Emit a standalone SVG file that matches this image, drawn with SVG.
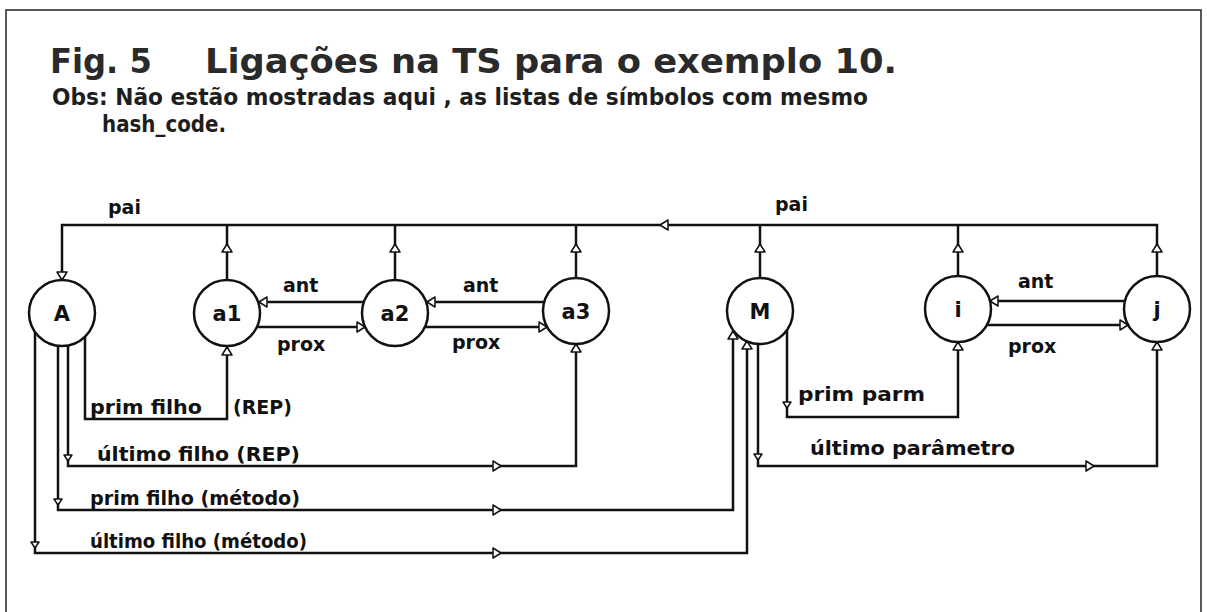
<svg xmlns="http://www.w3.org/2000/svg" width="1207" height="612" viewBox="0 0 1207 612">
<style>
.ln{fill:none;stroke:#111;stroke-width:2.5}
.fr{fill:none;stroke:#222;stroke-width:1.5}
.nd{fill:#fff;stroke:#111;stroke-width:2.5}
.ah{fill:#fff;stroke:#111;stroke-width:1.5;stroke-linejoin:round}
.ttl{font-family:"DejaVu Sans","Liberation Sans",sans-serif;font-size:34px;font-weight:bold;fill:#2a2a2a}
.obs{font-family:"DejaVu Sans","Liberation Sans",sans-serif;font-size:23px;font-weight:bold;fill:#1e1e1e}
.lbl{font-family:"DejaVu Sans","Liberation Sans",sans-serif;font-size:19px;font-weight:bold;fill:#111}
.nl{font-family:"DejaVu Sans","Liberation Sans",sans-serif;font-size:21px;font-weight:bold;text-anchor:middle;fill:#111}
</style>
<path class="fr" d="M6,612 V10 H1201 V612"/>
<text class="ttl" x="50" y="73" textLength="102" lengthAdjust="spacingAndGlyphs">Fig. 5</text>
<text class="ttl" x="205" y="73" textLength="692" lengthAdjust="spacingAndGlyphs">Ligações na TS para o exemplo 10.</text>
<text class="obs" x="52" y="105" textLength="816" lengthAdjust="spacingAndGlyphs">Obs: Não estão mostradas aqui , as listas de  símbolos com mesmo</text>
<text class="obs" x="102" y="132" textLength="124" lengthAdjust="spacingAndGlyphs">hash_code.</text>

<g id="connectors">
  <!-- pai -->
  <path class="ln" d="M62,280 V225 H1157 V276"/>
  <path class="ln" d="M227,280 V225 M395,280 V225 M576,278 V225 M760,278 V225 M958,276 V225"/>
  <path class="ah" d="M57,272 L62,280 L67,272 Z"/>
  <path class="ah" d="M222,252 L227,244 L232,252 Z"/>
  <path class="ah" d="M390,252 L395,244 L400,252 Z"/>
  <path class="ah" d="M571,252 L576,244 L581,252 Z"/>
  <path class="ah" d="M755,252 L760,244 L765,252 Z"/>
  <path class="ah" d="M953,252 L958,244 L963,252 Z"/>
  <path class="ah" d="M1152,252 L1157,244 L1162,252 Z"/>
  <path class="ah" d="M668,220 L660,225 L668,230 Z"/>
  <!-- ant / prox -->
  <path class="ln" d="M364,302 H259 M257,327 H365"/>
  <path class="ah" d="M267,297 L259,302 L267,307 Z"/>
  <path class="ah" d="M357,322 L365,327 L357,332 Z"/>
  <path class="ln" d="M544,302 H427 M425,327 H547"/>
  <path class="ah" d="M435,297 L427,302 L435,307 Z"/>
  <path class="ah" d="M539,322 L547,327 L539,332 Z"/>
  <path class="ln" d="M1125,301 H990 M987,325 H1128"/>
  <path class="ah" d="M998,296 L990,301 L998,306 Z"/>
  <path class="ah" d="M1120,320 L1128,325 L1120,330 Z"/>
  <!-- prim filho (REP) -->
  <path class="ln" d="M85,337 V419 H227 V347"/>
  <path class="ah" d="M222,355 L227,347 L232,355 Z"/>
  <!-- ultimo filho (REP) -->
  <path class="ln" d="M68,345 V466 H576 V344"/>
  <path class="ah" d="M571,352 L576,344 L581,352 Z"/>
  <path class="ah" d="M493,461 L501,466 L493,471 Z"/>
  <path class="ah" d="M64,455 L68,461 L72,455 Z"/>
  <!-- prim filho (metodo) -->
  <path class="ln" d="M58,346 V510 H733 V331"/>
  <path class="ah" d="M728,339 L733,331 L738,339 Z"/>
  <path class="ah" d="M493,505 L501,510 L493,515 Z"/>
  <path class="ah" d="M54,499 L58,505 L62,499 Z"/>
  <!-- ultimo filho (metodo) -->
  <path class="ln" d="M35,332 V553 H747 V341"/>
  <path class="ah" d="M742,349 L747,341 L752,349 Z"/>
  <path class="ah" d="M493,548 L501,553 L493,558 Z"/>
  <path class="ah" d="M31,542 L35,548 L39,542 Z"/>
  <!-- ultimo parametro -->
  <path class="ln" d="M758,343 V466 H1157 V342"/>
  <path class="ah" d="M1152,350 L1157,342 L1162,350 Z"/>
  <path class="ah" d="M1086,461 L1094,466 L1086,471 Z"/>
  <path class="ah" d="M754,454 L758,460 L762,454 Z"/>
  <!-- prim parm -->
  <path class="ln" d="M787,330 V417 H958 V342"/>
  <path class="ah" d="M953,350 L958,342 L963,350 Z"/>
  <path class="ah" d="M783,402 L787,408 L791,402 Z"/>
</g>

<g id="connector-labels">
  <text class="lbl" x="108" y="214" font-size="20">pai</text>
  <text class="lbl" x="775" y="211" font-size="20">pai</text>
  <text class="lbl" x="283" y="292">ant</text>
  <text class="lbl" x="463" y="292">ant</text>
  <text class="lbl" x="1018" y="288">ant</text>
  <text class="lbl" x="277" y="351">prox</text>
  <text class="lbl" x="452" y="349">prox</text>
  <text class="lbl" x="1008" y="353">prox</text>
  <text class="lbl" x="90" y="414" textLength="112" lengthAdjust="spacingAndGlyphs">prim filho</text>
  <text class="lbl" x="233" y="414">(REP)</text>
  <text class="lbl" x="97" y="461" textLength="203" lengthAdjust="spacingAndGlyphs">último filho (REP)</text>
  <text class="lbl" x="90" y="505" textLength="210" lengthAdjust="spacingAndGlyphs">prim filho (método)</text>
  <text class="lbl" x="90" y="548" textLength="217" lengthAdjust="spacingAndGlyphs">último filho (método)</text>
  <text class="lbl" x="798" y="401" textLength="127" lengthAdjust="spacingAndGlyphs">prim parm</text>
  <text class="lbl" x="810" y="455" textLength="205" lengthAdjust="spacingAndGlyphs">último parâmetro</text>
</g>

<g id="node-A"><circle class="nd" cx="62" cy="313" r="33"/><text class="nl" x="62" y="321">A</text></g>
<g id="node-a1"><circle class="nd" cx="227" cy="313" r="33"/><text class="nl" x="227" y="321">a1</text></g>
<g id="node-a2"><circle class="nd" cx="395" cy="313" r="33"/><text class="nl" x="395" y="321">a2</text></g>
<g id="node-a3"><circle class="nd" cx="576" cy="311" r="33"/><text class="nl" x="576" y="319">a3</text></g>
<g id="node-M"><circle class="nd" cx="760" cy="311" r="33"/><text class="nl" x="760" y="319">M</text></g>
<g id="node-i"><circle class="nd" cx="958" cy="309" r="33"/><text class="nl" x="958" y="317">i</text></g>
<g id="node-j"><circle class="nd" cx="1157" cy="309" r="33"/><text class="nl" x="1157" y="317">j</text></g>
</svg>
